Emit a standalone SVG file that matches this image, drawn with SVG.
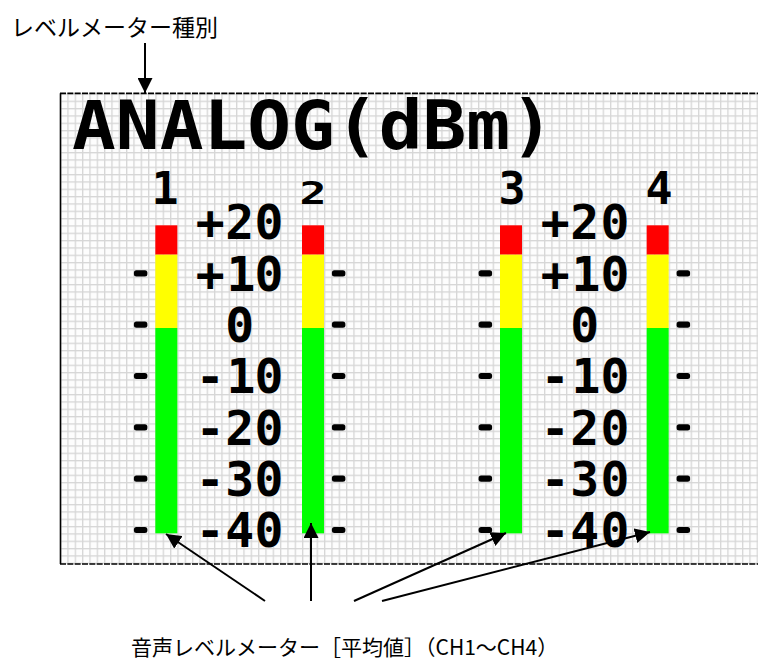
<svg xmlns="http://www.w3.org/2000/svg" width="758" height="664" viewBox="0 0 758 664">
<defs>
<pattern id="grid" patternUnits="userSpaceOnUse" x="60" y="93.33" width="7.333" height="7.333">
<rect width="7.333" height="7.333" fill="#fdfdfd"/>
<rect x="0" y="0" width="7.333" height="1.3" fill="#d6d6d6"/>
<rect x="0" y="0" width="1.3" height="7.333" fill="#d6d6d6"/>
</pattern>
<marker id="ah" markerUnits="userSpaceOnUse" markerWidth="15" markerHeight="15" refX="15" refY="7.5" orient="auto">
<path d="M0,0 L15,7.5 L0,15 z" fill="#000"/>
</marker>
<style>
.lcd{font-family:"DejaVu Sans Mono","Liberation Mono",monospace;font-weight:bold;fill:#000}
.sc{font-size:48px;text-anchor:middle}
.ch{font-size:45px;text-anchor:middle}
.lbl{font-family:"Noto Sans CJK JP","Noto Sans",sans-serif;fill:#000}
.tick{fill:#000}
.red{fill:#ff0000}.yel{fill:#ffff00}.grn{fill:#00ff00}
.conn line{stroke:#000;stroke-width:2;marker-end:url(#ah)}
</style>
</defs>
<rect x="0" y="0" width="758" height="664" fill="#fff"/>

<g id="display">
<rect x="60" y="93.33" width="698" height="470.67" fill="url(#grid)"/>
<line x1="60" y1="93.33" x2="758" y2="93.33" stroke="#000" stroke-width="1.6" stroke-dasharray="6 1.333"/>
<line x1="60" y1="564" x2="758" y2="564" stroke="#000" stroke-width="1.6" stroke-dasharray="6 1.333"/>
<line x1="60.5" y1="93.33" x2="60.5" y2="564" stroke="#000" stroke-width="1.6"/>
</g>

<g id="title">
<text class="lcd" x="72" y="149" font-size="67" textLength="482" lengthAdjust="spacingAndGlyphs">ANALOG(dBm)</text>
</g>

<g id="meter1">
<text class="lcd ch" x="165" y="204">1</text>
<rect class="red" x="155.33" y="225.33" width="22" height="29.33"/>
<rect class="yel" x="155.33" y="254.67" width="22" height="73.33"/>
<rect class="grn" x="155.33" y="328" width="22" height="205.33"/>
<g class="tick">
<rect x="133.9" y="270.3" width="13.5" height="6.1" rx="2.5"/>
<rect x="133.9" y="321.6" width="13.5" height="6.1" rx="2.5"/>
<rect x="133.9" y="372.9" width="13.5" height="6.1" rx="2.5"/>
<rect x="133.9" y="424.3" width="13.5" height="6.1" rx="2.5"/>
<rect x="133.9" y="475.6" width="13.5" height="6.1" rx="2.5"/>
<rect x="133.9" y="526.9" width="13.5" height="6.1" rx="2.5"/>
</g>
</g>

<g id="meter2">
<text class="lcd ch" transform="translate(313,204) scale(1,0.72)" x="0" y="0">2</text>
<rect class="red" x="302" y="225.33" width="22" height="29.33"/>
<rect class="yel" x="302" y="254.67" width="22" height="73.33"/>
<rect class="grn" x="302" y="328" width="22" height="205.33"/>
<g class="tick">
<rect x="331.9" y="270.3" width="13.5" height="6.1" rx="2.5"/>
<rect x="331.9" y="321.6" width="13.5" height="6.1" rx="2.5"/>
<rect x="331.9" y="372.9" width="13.5" height="6.1" rx="2.5"/>
<rect x="331.9" y="424.3" width="13.5" height="6.1" rx="2.5"/>
<rect x="331.9" y="475.6" width="13.5" height="6.1" rx="2.5"/>
<rect x="331.9" y="526.9" width="13.5" height="6.1" rx="2.5"/>
</g>
</g>

<g id="scale1">
<text class="lcd sc" x="210.3 239.7 269" y="239">+20</text>
<text class="lcd sc" x="210.3 241 269" y="290.5">+10</text>
<text class="lcd sc" x="239.7" y="342">0</text>
<text class="lcd sc" x="210.3 241 269" y="393">-10</text>
<text class="lcd sc" x="210.3 239.7 269" y="444.5">-20</text>
<text class="lcd sc" x="210.3 239.7 269" y="496">-30</text>
<text class="lcd sc" x="210.3 239.7 269" y="547">-40</text>
</g>

<g id="meter3">
<text class="lcd ch" x="512" y="204">3</text>
<rect class="red" x="500" y="225.33" width="22" height="29.33"/>
<rect class="yel" x="500" y="254.67" width="22" height="73.33"/>
<rect class="grn" x="500" y="328" width="22" height="205.33"/>
<g class="tick">
<rect x="478.6" y="270.3" width="13.5" height="6.1" rx="2.5"/>
<rect x="478.6" y="321.6" width="13.5" height="6.1" rx="2.5"/>
<rect x="478.6" y="372.9" width="13.5" height="6.1" rx="2.5"/>
<rect x="478.6" y="424.3" width="13.5" height="6.1" rx="2.5"/>
<rect x="478.6" y="475.6" width="13.5" height="6.1" rx="2.5"/>
<rect x="478.6" y="526.9" width="13.5" height="6.1" rx="2.5"/>
</g>
</g>

<g id="meter4">
<text class="lcd ch" x="659" y="204">4</text>
<rect class="red" x="646.67" y="225.33" width="22" height="29.33"/>
<rect class="yel" x="646.67" y="254.67" width="22" height="73.33"/>
<rect class="grn" x="646.67" y="328" width="22" height="205.33"/>
<g class="tick">
<rect x="676.6" y="270.3" width="13.5" height="6.1" rx="2.5"/>
<rect x="676.6" y="321.6" width="13.5" height="6.1" rx="2.5"/>
<rect x="676.6" y="372.9" width="13.5" height="6.1" rx="2.5"/>
<rect x="676.6" y="424.3" width="13.5" height="6.1" rx="2.5"/>
<rect x="676.6" y="475.6" width="13.5" height="6.1" rx="2.5"/>
<rect x="676.6" y="526.9" width="13.5" height="6.1" rx="2.5"/>
</g>
</g>

<g id="scale2">
<text class="lcd sc" x="555.3 584.7 615" y="239">+20</text>
<text class="lcd sc" x="555.3 586 615" y="290.5">+10</text>
<text class="lcd sc" x="584.7" y="342">0</text>
<text class="lcd sc" x="555.3 586 615" y="393">-10</text>
<text class="lcd sc" x="555.3 584.7 615" y="444.5">-20</text>
<text class="lcd sc" x="555.3 584.7 615" y="496">-30</text>
<text class="lcd sc" x="555.3 584.7 615" y="547">-40</text>
</g>

<g id="label-type">
<text class="lbl" x="11" y="36" font-size="23">レベルメーター種別</text>
</g>

<g id="label-meters">
<text class="lbl" x="131" y="655" font-size="21">音声レベルメーター［平均値］（CH1～CH4）</text>
</g>

<g id="connectors" class="conn">
<line x1="145" y1="43" x2="145" y2="93"/>
<line x1="265" y1="601" x2="166" y2="534"/>
<line x1="311" y1="601" x2="311" y2="523"/>
<line x1="354" y1="601" x2="506" y2="533"/>
<line x1="382" y1="601" x2="650" y2="532"/>
</g>
</svg>
